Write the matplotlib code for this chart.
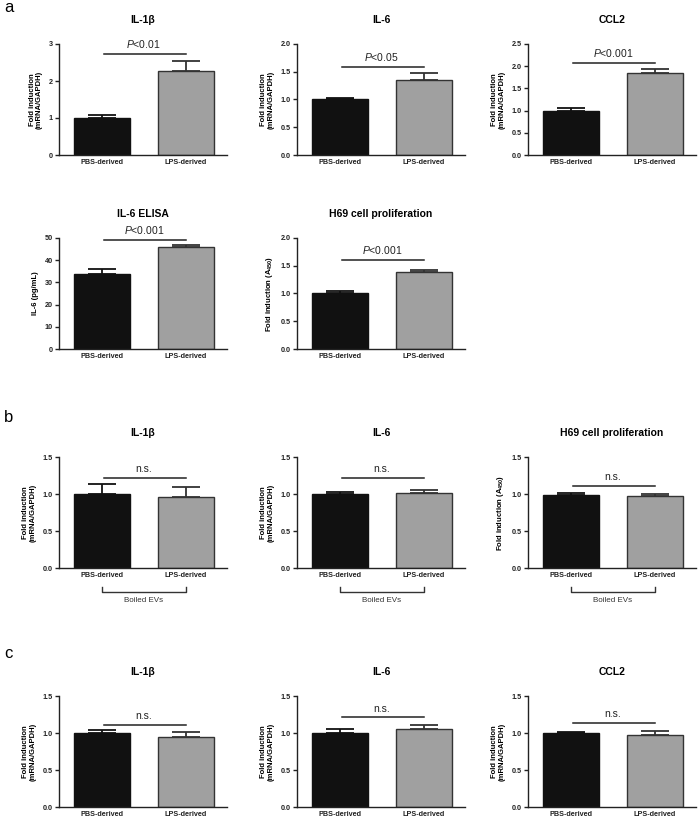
import numpy as np
import matplotlib
matplotlib.use('Agg')
import matplotlib.pyplot as plt
from matplotlib.transforms import blended_transform_factory

plt.rcParams.update({
    "font.family": ["Liberation Sans", "DejaVu Sans"],
    "mathtext.fontset": "custom",
    "mathtext.rm": "Liberation Sans",
    "mathtext.it": "Liberation Sans:italic",
    "mathtext.bf": "Liberation Sans:bold",
    "axes.linewidth": 1.0,
})

groups = ["PBS-derived", "LPS-derived"]

# panel a
a_titles = ["IL-1β", "IL-6", "CCL2", "IL-6 ELISA", "H69 cell proliferation"]
a_pbs = [1.00, 1.00, 1.00, 33.6, 1.01]
a_pbs_err = [0.07, 0.03, 0.06, 2.3, 0.04]
a_lps = [2.26, 1.35, 1.84, 45.9, 1.38]
a_lps_err = [0.28, 0.13, 0.09, 0.9, 0.05]
a_pval = ["<0.01", "<0.05", "<0.001", "<0.001", "<0.001"]
a_sig_y = [2.73, 1.59, 2.07, 49.3, 1.61]
a_ymax = [3, 2.0, 2.5, 50, 2.0]
a_ystep = [1, 0.5, 0.5, 10, 0.5]
a_ylabel = ["Fold induction\n(mRNA/GAPDH)"] * 3 + ["IL-6 (pg/mL)", r"Fold induction (A$_{\mathbf{450}}$)"]

# panel b (boiled EVs)
b_titles = ["IL-1β", "IL-6", "H69 cell proliferation"]
b_pbs = [1.00, 1.00, 0.99]
b_pbs_err = [0.13, 0.03, 0.03]
b_lps = [0.96, 1.01, 0.975]
b_lps_err = [0.13, 0.04, 0.025]
b_sig_y = [1.22, 1.22, 1.11]
b_ylabel = ["Fold induction\n(mRNA/GAPDH)"] * 2 + [r"Fold induction (A$_{\mathbf{450}}$)"]

# panel c
c_titles = ["IL-1β", "IL-6", "CCL2"]
c_pbs = [1.00, 1.00, 1.00]
c_pbs_err = [0.04, 0.06, 0.02]
c_lps = [0.94, 1.055, 0.975]
c_lps_err = [0.08, 0.055, 0.055]
c_sig_y = [1.11, 1.21, 1.13]

W, H = 700, 822
fig = plt.figure(figsize=(W / 100, H / 100), dpi=100)

COL_X = [59, 297, 528]
AX_W, AX_H = 168, 111


def make_ax(col, bottom_px):
    return fig.add_axes([COL_X[col] / W, 1 - bottom_px / H, AX_W / W, AX_H / H])


def draw_panel(ax, title, pbs, pbs_err, lps, lps_err, sig_y, sig_text, ymax, ystep, ylabel):
    x = np.arange(2)
    ax.bar(x, [pbs, lps], width=0.667, color=["#111111", "#a0a0a0"],
           edgecolor=["#111111", "#333333"], linewidth=1.0, zorder=2)
    ax.errorbar([0], [pbs], yerr=[[0], [pbs_err]], fmt="none", ecolor="#111111",
                elinewidth=1.3, capsize=10, capthick=1.3, zorder=3)
    ax.errorbar([1], [lps], yerr=[[0], [lps_err]], fmt="none", ecolor="#333333",
                elinewidth=1.3, capsize=10, capthick=1.3, zorder=3)
    ax.plot([0.03, 1.0], [sig_y, sig_y], color="#222222", lw=1.1, clip_on=False)
    ax.text(0.5, sig_y + ymax * 0.035, sig_text, ha="center", va="bottom",
            fontsize=7.5, color="#222222")

    ax.set_xlim(-0.51, 1.49)
    ax.set_ylim(0, ymax)
    ticks = np.arange(0, ymax + ystep / 2, ystep)
    ax.set_yticks(ticks)
    if ystep < 1:
        ax.set_yticklabels([f"{t:.1f}" for t in ticks])
    else:
        ax.set_yticklabels([f"{int(t)}" for t in ticks])
    ax.set_xticks(x)
    ax.set_xticklabels(groups)
    ax.tick_params(axis="x", length=0, pad=3, labelsize=5.2, colors="#222222")
    ax.tick_params(axis="y", length=3, width=1.0, pad=1.5, labelsize=5.2, colors="#222222")
    for lab in ax.get_xticklabels() + ax.get_yticklabels():
        lab.set_fontweight("bold")
    ax.spines["top"].set_visible(False)
    ax.spines["right"].set_visible(False)
    ax.spines["left"].set_color("#222222")
    ax.spines["bottom"].set_color("#222222")
    ax.set_ylabel(ylabel, fontsize=5.5, fontweight="bold", labelpad=4, linespacing=1.1)
    ax.set_title(title, fontsize=7.5, fontweight="bold", pad=15)


# row a1 / a2
a_pos = [(0, 155), (1, 155), (2, 155), (0, 349), (1, 349)]
for i, (col, bot) in enumerate(a_pos):
    ax = make_ax(col, bot)
    draw_panel(ax, a_titles[i], a_pbs[i], a_pbs_err[i], a_lps[i], a_lps_err[i],
               a_sig_y[i], f"$P${a_pval[i]}", a_ymax[i], a_ystep[i], a_ylabel[i])

# row b
for i in range(3):
    ax = make_ax(i, 568)
    draw_panel(ax, b_titles[i], b_pbs[i], b_pbs_err[i], b_lps[i], b_lps_err[i],
               b_sig_y[i], "n.s.", 1.5, 0.5, b_ylabel[i])
    tr = blended_transform_factory(ax.transData, ax.transAxes)
    ax.plot([0, 0, 1, 1], [-0.17, -0.215, -0.215, -0.17], color="#333333", lw=1.0,
            transform=tr, clip_on=False)
    ax.text(0.5, -0.29, "Boiled EVs", transform=tr, ha="center", va="center",
            fontsize=5.8, color="#333333")

# row c
for i in range(3):
    ax = make_ax(i, 807)
    draw_panel(ax, c_titles[i], c_pbs[i], c_pbs_err[i], c_lps[i], c_lps_err[i],
               c_sig_y[i], "n.s.", 1.5, 0.5, "Fold induction\n(mRNA/GAPDH)")

# panel letters
for letter, y in [("a", 8), ("b", 417), ("c", 653)]:
    fig.text(4 / W, 1 - y / H, letter, fontsize=12, ha="left", va="center")

fig.savefig("out.png", dpi=100)
